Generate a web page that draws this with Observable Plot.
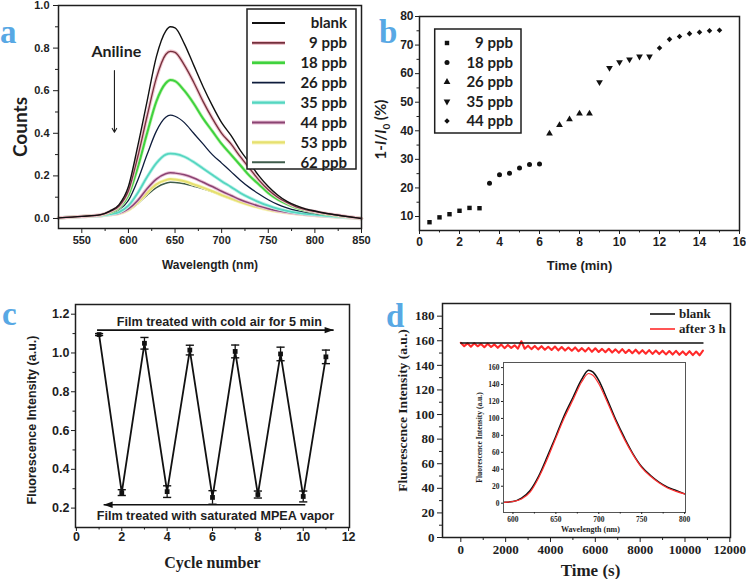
<!DOCTYPE html>
<html><head><meta charset="utf-8">
<script src="https://cdn.jsdelivr.net/npm/d3@7"></script>
<script src="https://cdn.jsdelivr.net/npm/@observablehq/plot@0.6"></script>
<style>
body{margin:0;background:#fff;}
#root{position:relative;width:746px;height:579px;overflow:hidden;background:#fff;}
</style></head>
<body><div id="root"></div>
<script>
// ---------- Panel a data ----------
const wavelengthA = [525,550,570,580,590,600,610,620,630,640,645,650,660,670,680,690,700,710,720,730,740,750,760,770,780,790,800,810,820,830,840,850];
const seriesA = ["blank","9 ppb","18 ppb","26 ppb","35 ppb","44 ppb","53 ppb","62 ppb"];
const countsBlank = [0.003,0.010,0.018,0.035,0.065,0.15,0.34,0.55,0.76,0.88,0.90,0.895,0.82,0.72,0.62,0.53,0.45,0.39,0.32,0.26,0.20,0.15,0.11,0.08,0.06,0.045,0.035,0.026,0.019,0.012,0.006,0.0];
const counts9 = [0.003,0.010,0.017,0.032,0.058,0.13,0.29,0.48,0.66,0.77,0.785,0.78,0.72,0.64,0.55,0.47,0.40,0.35,0.29,0.235,0.18,0.135,0.10,0.075,0.055,0.042,0.033,0.025,0.018,0.012,0.006,0.0];
const counts18 = [0.003,0.010,0.016,0.028,0.05,0.11,0.24,0.40,0.55,0.635,0.65,0.645,0.60,0.54,0.47,0.41,0.35,0.30,0.25,0.20,0.16,0.12,0.09,0.068,0.05,0.038,0.03,0.022,0.016,0.01,0.005,0.0];
const counts26 = [0.003,0.010,0.015,0.025,0.042,0.085,0.18,0.30,0.41,0.475,0.485,0.48,0.45,0.40,0.35,0.30,0.26,0.22,0.18,0.145,0.115,0.088,0.066,0.05,0.038,0.03,0.024,0.018,0.013,0.008,0.004,0.0];
const counts35 = [0.003,0.009,0.014,0.02,0.03,0.06,0.12,0.195,0.26,0.30,0.305,0.303,0.29,0.265,0.235,0.205,0.175,0.148,0.12,0.097,0.077,0.06,0.046,0.036,0.028,0.022,0.018,0.014,0.01,0.007,0.004,0.0];
const counts44 = [0.003,0.009,0.013,0.018,0.025,0.045,0.085,0.14,0.185,0.21,0.215,0.213,0.205,0.19,0.17,0.15,0.128,0.108,0.088,0.072,0.058,0.046,0.036,0.029,0.023,0.019,0.015,0.012,0.009,0.006,0.003,0.0];
const counts53 = [0.003,0.009,0.013,0.017,0.023,0.04,0.075,0.12,0.16,0.18,0.185,0.183,0.175,0.16,0.145,0.128,0.11,0.093,0.077,0.063,0.051,0.041,0.033,0.027,0.022,0.018,0.014,0.011,0.008,0.005,0.003,0.0];
const counts62 = [0.003,0.009,0.013,0.017,0.023,0.038,0.07,0.11,0.145,0.165,0.17,0.169,0.163,0.152,0.14,0.125,0.108,0.092,0.077,0.064,0.052,0.042,0.034,0.028,0.023,0.019,0.015,0.012,0.009,0.006,0.003,0.0];
const ticksAx = [550,600,650,700,750,800,850];
const minorAx = [575,625,675,725,775,825];
const ticksAy = [0,0.2,0.4,0.6,0.8,1.0];
const minorAy = [0.1,0.3,0.5,0.7,0.9];
const annotTextA = [{label:"Aniline", x:587, y:0.78}];
const annotArrowA = [{x:585, y1:0.695, y2:0.405}];

// ---------- Panel b data ----------
const seriesB = ["9 ppb","18 ppb","26 ppb","35 ppb","44 ppb"];
const timeB9 = [0.5,1,1.5,2,2.5,3];           const valB9 = [8,9.7,10.8,12,13,12.9];
const timeB18 = [3.5,4,4.5,5,5.5,6];          const valB18 = [21.6,24.6,25.1,27,28.2,28.4];
const timeB26 = [6.5,7,7.5,8,8.5];            const valB26 = [39,42,44,46,46];
const timeB35 = [9,9.5,10,10.5,11,11.5];      const valB35 = [57,62,64,65,66,66];
const timeB44 = [12,12.5,13,13.5,14,14.5,15]; const valB44 = [69,72,73,74,74.5,75,75.2];
const ticksBx = [0,2,4,6,8,10,12,14,16];
const minorBx = [1,3,5,7,9,11,13,15];
const ticksBy = [10,20,30,40,50,60,70,80];
const minorBy = [15,25,35,45,55,65,75];

// ---------- Panel c data ----------
const cycleC = [1,2,3,4,5,6,7,8,9,10,11];
const intensityC = [1.095,0.28,1.05,0.285,1.015,0.255,1.008,0.27,0.995,0.26,0.98];
const errorC = [0.005,0.015,0.03,0.03,0.025,0.035,0.033,0.018,0.035,0.028,0.035];
const ticksCx = [0,2,4,6,8,10,12];
const minorCx = [1,3,5,7,9,11];
const ticksCy = [0.2,0.4,0.6,0.8,1.0,1.2];
const minorCy = [0.3,0.5,0.7,0.9,1.1];
const arrowsC = [{x1:0.91, x2:11.34, y:1.118, dir:"right"},{x1:10.09, x2:1.2, y:0.217, dir:"left"}];
const notesC = [{label:"Film treated with cold air for 5 min", x:6.3, y:1.16},{label:"Film treated with saturated MPEA vapor", x:6.13, y:0.158}];

// ---------- Panel d data ----------
const timeD = d3.range(0, 10801, 150);
const after3h = [158.3,155.6,157.9,155.2,158.0,155.5,157.4,154.8,157.6,154.9,
  157.0,154.3,156.9,154.0,156.6,154.2,156.3,153.6,159.6,153.5,
  156.0,153.2,155.8,153.0,155.6,152.7,155.1,152.5,155.3,152.2,
  154.9,152.0,154.5,151.9,154.6,151.5,154.0,151.3,154.2,151.0,
  153.9,150.9,153.4,150.7,153.5,150.4,153.0,150.2,153.2,150.1,
  152.6,149.9,152.7,149.6,152.3,149.5,152.4,149.3,152.0,149.2,
  151.9,148.9,151.6,148.8,151.8,148.6,151.3,148.5,151.5,148.3,
  151.2,148.2,152.0];
const blankTimeD = [0,10800];
const blankValD = [158.2,158.2];
const ticksDx = [0,2000,4000,6000,8000,10000,12000];
const minorDx = [1000,3000,5000,7000,9000,11000];
const ticksDy = [0,20,40,60,80,100,120,140,160,180];
const minorDy = [10,30,50,70,90,110,130,150,170];
// inset
const wavelengthInset = [590,600,610,620,630,640,650,660,670,680,688,693,700,710,720,730,740,750,760,770,780,790,800];
const insetBlank = [1,2,6,15,32,55,79,104,125,146,157,155,145,122,98,77,58,43,33,25,19,15,11];
const insetAfter = [1,2,5,13,30,52,77,101,122,143,153,151,141,119,96,75,57,42,32,24,18,14,11];
const ticksIx = [600,650,700,750,800];
const minorIx = [625,675,725,775];
const ticksIy = [0,20,40,60,80,100,120,140,160];

// ---------- styles ----------
const coreColorsA = ["#111111","#74303c","#3fd23f","#0e1c3c","#55d6c0","#8a4472","#e6e070","#3f5c4c"];
const haloColorsA = [null,"#f0c4ce","#c6f3b6",null,"#bff2ea","#ecc2d8","#f8f5bd",null];
const widthA = [1.4,1.3,2,1.3,1.8,1.5,2,1.6];
const symbolsB = ["square","circle","triangle",null,"diamond2"];
const triangleDown = {draw(ctx,size){const s=Math.sqrt(size*4/Math.sqrt(3));const h=s*Math.sqrt(3)/2;ctx.moveTo(0,2*h/3);ctx.lineTo(s/2,-h/3);ctx.lineTo(-s/2,-h/3);ctx.closePath();}};
symbolsB[3] = triangleDown;
const headRight = {draw(ctx){ctx.moveTo(0,0);ctx.lineTo(-9,-3.2);ctx.lineTo(-9,3.2);ctx.closePath();}};
const headLeft = {draw(ctx){ctx.moveTo(0,0);ctx.lineTo(9,-3.2);ctx.lineTo(9,3.2);ctx.closePath();}};

const root = document.getElementById("root");
function place(el,l,t){el.style.position="absolute";el.style.left=l+"px";el.style.top=t+"px";root.appendChild(el);}
const SANS = "'Liberation Sans', Arial, sans-serif";
const SERIF = "'Liberation Serif', 'Times New Roman', serif";
const CAL = "Lato, 'Open Sans', sans-serif";
const INK = "#1e1e1e";
const lab = {textAnchor:"middle", lineAnchor:"middle", fontWeight:"bold", fill:INK};

// ---------- Panel a ----------
const spectraA = [countsBlank,counts9,counts18,counts26,counts35,counts44,counts53,counts62];
const dataA = seriesA.flatMap((s,i)=>wavelengthA.map((w,j)=>({s,w,v:spectraA[i][j]})));
const linesA = [];
for (let i = seriesA.length-1; i >= 0; i--) {
  const d = dataA.filter(r => r.s === seriesA[i]);
  if (haloColorsA[i]) linesA.push(Plot.line(d,{x:"w",y:"v",stroke:haloColorsA[i],strokeWidth:3.4,curve:"monotone-x"}));
  linesA.push(Plot.line(d,{x:"w",y:"v",stroke:coreColorsA[i],strokeWidth:widthA[i],curve:"monotone-x"}));
}
const plotA = Plot.plot({
  width:373,height:290,marginLeft:58,marginRight:12,marginTop:5,marginBottom:62,
  x:{domain:[525,850]}, y:{domain:[-0.047,1.0]},
  style:{fontFamily:SANS,fontWeight:"bold",fontSize:"11px",color:INK,background:"none"},
  marks:[
    ...linesA,
    Plot.arrow(annotArrowA,{x1:"x",y1:"y1",x2:"x",y2:"y2",stroke:INK,strokeWidth:1.1,headLength:6}),
    Plot.text(annotTextA,{x:"x",y:"y",text:"label",fontFamily:CAL,fontSize:16,fontWeight:"bold",fill:INK}),
    Plot.frame({stroke:INK,strokeWidth:1.5}),
    Plot.axisX({ticks:ticksAx,tickSize:5,tickPadding:3,tickFormat:d=>String(d),label:null}),
    Plot.axisX({ticks:minorAx,tickSize:3,tickFormat:()=>"",label:null}),
    Plot.axisY({ticks:ticksAy,tickSize:5,tickPadding:4,tickFormat:d3.format(".1f"),label:null}),
    Plot.axisY({ticks:minorAy,tickSize:3,tickFormat:()=>"",label:null}),
    Plot.text(["Wavelength (nm)"],{...lab,text:d=>d,frameAnchor:"bottom",dy:37,fontSize:12}),
    Plot.text(["Counts"],{...lab,text:d=>d,frameAnchor:"left",dx:-38,dy:10,rotate:-90,fontFamily:CAL,fontSize:19})
  ]
});
place(plotA,0,0);

// ---------- Panel b ----------
const timesB = [timeB9,timeB18,timeB26,timeB35,timeB44];
const valsB = [valB9,valB18,valB26,valB35,valB44];
const dataB = seriesB.flatMap((s,i)=>timesB[i].map((t,j)=>({s,t,v:valsB[i][j]})));
const plotB = Plot.plot({
  width:373,height:290,marginLeft:46,marginRight:7,marginTop:16,marginBottom:60,
  x:{domain:[0,16]}, y:{domain:[5.1,80]},
  symbol:{domain:seriesB,range:symbolsB},
  style:{fontFamily:SANS,fontWeight:"bold",fontSize:"12px",color:INK,background:"none"},
  marks:[
    Plot.dot(dataB,{x:"t",y:"v",symbol:"s",r:2.5,fill:"#111",stroke:"none"}),
    Plot.frame({stroke:INK,strokeWidth:1.5}),
    Plot.axisX({ticks:ticksBx,tickSize:4,tickPadding:3,label:null}),
    Plot.axisX({ticks:minorBx,tickSize:2.5,tickFormat:()=>"",label:null}),
    Plot.axisY({ticks:ticksBy,tickSize:4,tickPadding:2,label:null}),
    Plot.axisY({ticks:minorBy,tickSize:2.5,tickFormat:()=>"",label:null}),
    Plot.text(["Time (min)"],{...lab,text:d=>d,frameAnchor:"bottom",dy:35,fontSize:13})
  ]
});
place(plotB,373,0);

// ---------- Panel c ----------
const dataC = cycleC.map((c,i)=>({c,v:intensityC[i],e:errorC[i]}));
const plotC = Plot.plot({
  width:373,height:289,marginLeft:75,marginRight:24,marginTop:14,marginBottom:52,
  x:{domain:[-0.04,12.04]}, y:{domain:[0.1,1.25]},
  style:{fontFamily:SANS,fontWeight:"bold",fontSize:"12.5px",color:INK,background:"none"},
  marks:[
    Plot.line(dataC,{x:"c",y:"v",stroke:"#111",strokeWidth:1.8}),
    Plot.ruleX(dataC,{x:"c",y1:d=>d.v-d.e,y2:d=>d.v+d.e,stroke:"#111",strokeWidth:1.3}),
    Plot.link(dataC,{x1:d=>d.c-0.18,x2:d=>d.c+0.18,y1:d=>d.v+d.e,y2:d=>d.v+d.e,stroke:"#111",strokeWidth:1.4}),
    Plot.link(dataC,{x1:d=>d.c-0.18,x2:d=>d.c+0.18,y1:d=>d.v-d.e,y2:d=>d.v-d.e,stroke:"#111",strokeWidth:1.4}),
    Plot.dot(dataC,{x:"c",y:"v",symbol:"square",r:2.7,fill:"#111",stroke:"none"}),
    Plot.link(arrowsC,{x1:"x1",x2:"x2",y1:"y",y2:"y",stroke:"#111",strokeWidth:1.6}),
    Plot.dot(arrowsC.filter(d=>d.dir==="right"),{x:"x2",y:"y",symbol:headRight,r:3,fill:"#111",stroke:"none"}),
    Plot.dot(arrowsC.filter(d=>d.dir==="left"),{x:"x2",y:"y",symbol:headLeft,r:3,fill:"#111",stroke:"none"}),
    Plot.text(notesC,{x:"x",y:"y",text:"label",fontSize:12.6,fontWeight:"bold",fill:INK}),
    Plot.frame({stroke:INK,strokeWidth:1.5}),
    Plot.axisX({ticks:ticksCx,tickSize:4,tickPadding:1,label:null}),
    Plot.axisX({ticks:minorCx,tickSize:2.5,tickFormat:()=>"",label:null}),
    Plot.axisY({ticks:ticksCy,tickSize:4,tickPadding:2,tickFormat:d3.format(".1f"),label:null}),
    Plot.axisY({ticks:minorCy,tickSize:2.5,tickFormat:()=>"",label:null}),
    Plot.text(["Cycle number"],{...lab,text:d=>d,frameAnchor:"bottom",dy:35,fontFamily:SERIF,fontSize:16}),
    Plot.text(["Fluorescence Intensity (a.u.)"],{...lab,text:d=>d,frameAnchor:"left",dx:-44,dy:4,rotate:-90,fontSize:12.5})
  ]
});
place(plotC,0,290);

// ---------- Panel d ----------
const dataAfter = timeD.map((t,i)=>({t,v:after3h[i]}));
const dataBlankD = blankTimeD.map((t,i)=>({t,v:blankValD[i]}));
const plotD = Plot.plot({
  width:373,height:289,marginLeft:69,marginRight:16,marginTop:13,marginBottom:42,
  x:{domain:[-817,12030]}, y:{domain:[0,190.3]},
  style:{fontFamily:SERIF,fontWeight:"bold",fontSize:"13px",color:INK,background:"none"},
  marks:[
    Plot.line(dataAfter,{x:"t",y:"v",stroke:"#ff2a2a",strokeWidth:2.1}),
    Plot.line(dataBlankD,{x:"t",y:"v",stroke:"#111",strokeWidth:1.6}),
    Plot.frame({stroke:INK,strokeWidth:1.5}),
    Plot.axisX({ticks:ticksDx,tickSize:5,tickPadding:2,tickFormat:d=>String(d),label:null}),
    Plot.axisX({ticks:minorDx,tickSize:3,tickFormat:()=>"",label:null}),
    Plot.axisY({ticks:ticksDy,tickSize:5,tickPadding:3,tickFormat:d=>String(d),label:null}),
    Plot.axisY({ticks:minorDy,tickSize:3,tickFormat:()=>"",label:null}),
    Plot.text(["Time (s)"],{...lab,text:d=>d,frameAnchor:"bottom",dx:4,dy:33,fontSize:17}),
    Plot.text(["Fluorescence Intensity (a.u.)"],{...lab,text:d=>d,frameAnchor:"left",dx:-39.5,dy:-10,rotate:-90,fontSize:13.5})
  ]
});
place(plotD,373,290);

// inset
const dataInsetB = wavelengthInset.map((w,i)=>({w,v:insetBlank[i]}));
const dataInsetA = wavelengthInset.map((w,i)=>({w,v:insetAfter[i]}));
const plotI = Plot.plot({
  width:220,height:190,marginLeft:30,marginRight:8,marginTop:7,marginBottom:33,
  x:{domain:[589,801]}, y:{domain:[-11,166]},
  style:{fontFamily:SERIF,fontWeight:"bold",fontSize:"7.5px",color:INK,background:"none"},
  marks:[
    Plot.frame({fill:"white",stroke:"none"}),
    Plot.line(dataInsetB,{x:"w",y:"v",stroke:"#111",strokeWidth:1.5,curve:"monotone-x"}),
    Plot.line(dataInsetA,{x:"w",y:"v",stroke:"#ff3030",strokeWidth:1.2,curve:"monotone-x"}),
    Plot.frame({stroke:"#555",strokeWidth:1}),
    Plot.axisX({ticks:ticksIx,tickSize:2,tickPadding:2,tickFormat:d=>String(d),label:null}),
    Plot.axisX({ticks:minorIx,tickSize:1.5,tickFormat:()=>"",label:null}),
    Plot.axisY({ticks:ticksIy,tickSize:2,tickPadding:2,label:null}),
    Plot.text(["Wavelength (nm)"],{...lab,text:d=>d,frameAnchor:"bottom",dx:-4,dy:17,fontSize:8}),
    Plot.text(["Fluorescence Intensity (a.u.)"],{...lab,text:d=>d,frameAnchor:"left",dx:-24,dy:0,rotate:-90,fontSize:7.5})
  ]
});
place(plotI,473,355);

// ---------- overlay: legends, letters ----------
const ov = d3.create("svg").attr("width",746).attr("height",579)
  .style("position","absolute").style("left","0px").style("top","0px").style("pointer-events","none");
// legend a
const gA = ov.append("g").attr("font-family",CAL).attr("font-weight","bold").attr("font-size",15).attr("fill",INK);
gA.append("rect").attr("x",247).attr("y",9).attr("width",109).attr("height",160).attr("fill","white").attr("stroke",INK).attr("stroke-width",1.5);
seriesA.forEach((s,i)=>{
  const y = 23 + 19.9*i;
  if (haloColorsA[i]) gA.append("line").attr("x1",252).attr("x2",285).attr("y1",y).attr("y2",y).attr("stroke",haloColorsA[i]).attr("stroke-width",4);
  gA.append("line").attr("x1",252).attr("x2",285).attr("y1",y).attr("y2",y).attr("stroke",coreColorsA[i]).attr("stroke-width",widthA[i]+0.4);
  gA.append("text").attr("x",347).attr("y",y).attr("dy","0.36em").attr("text-anchor","end").text(s);
});
// legend b
const gB = ov.append("g").attr("font-family",CAL).attr("font-weight","bold").attr("font-size",15).attr("fill",INK);
gB.append("rect").attr("x",434.7).attr("y",29).attr("width",86.3).attr("height",104).attr("fill","white").attr("stroke",INK).attr("stroke-width",1.5);
const d3sym = {square:d3.symbolSquare,circle:d3.symbolCircle,triangle:d3.symbolTriangle,diamond2:d3.symbolDiamond2};
seriesB.forEach((s,i)=>{
  const y = 43 + 19.5*i;
  const type = typeof symbolsB[i] === "string" ? d3sym[symbolsB[i]] : symbolsB[i];
  gB.append("path").attr("transform",`translate(447,${y})`).attr("d",d3.symbol(type,Math.PI*2.5*2.5)()).attr("fill","#111");
  gB.append("text").attr("x",513).attr("y",y).attr("dy","0.36em").attr("text-anchor","end").text(s);
});
// y label b
const yb = ov.append("text").attr("transform","translate(381,129.5) rotate(-90)").attr("text-anchor","middle").attr("dy","0.36em")
  .attr("font-family",CAL).attr("font-weight","bold").attr("font-size",15).attr("fill",INK);
yb.append("tspan").text("1-");
yb.append("tspan").attr("font-style","italic").text("I");
yb.append("tspan").text("/");
yb.append("tspan").attr("font-style","italic").text("I");
yb.append("tspan").attr("font-size",10).attr("dy",4).text("0");
yb.append("tspan").attr("dy",-4).text(" (%)");
// legend d
const gD = ov.append("g").attr("font-family",SERIF).attr("font-weight","bold").attr("font-size",13).attr("fill",INK);
gD.append("line").attr("x1",650).attr("x2",675).attr("y1",314).attr("y2",314).attr("stroke","#111").attr("stroke-width",1.6);
gD.append("line").attr("x1",650).attr("x2",675).attr("y1",329).attr("y2",329).attr("stroke","#ff2a2a").attr("stroke-width",1.6);
gD.append("text").attr("x",679).attr("y",314).attr("dy","0.33em").text("blank");
gD.append("text").attr("x",679).attr("y",329).attr("dy","0.33em").text("after 3 h");
// panel letters
const letters = [{t:"a",x:0,y:43},{t:"b",x:379,y:43},{t:"c",x:2,y:325},{t:"d",x:386,y:327}];
ov.append("g").attr("font-family",SERIF).attr("font-weight","bold").attr("font-size",33).attr("fill","#58a8e4")
  .selectAll("text").data(letters).join("text").attr("x",d=>d.x).attr("y",d=>d.y).text(d=>d.t);
root.appendChild(ov.node());
</script></body></html>
